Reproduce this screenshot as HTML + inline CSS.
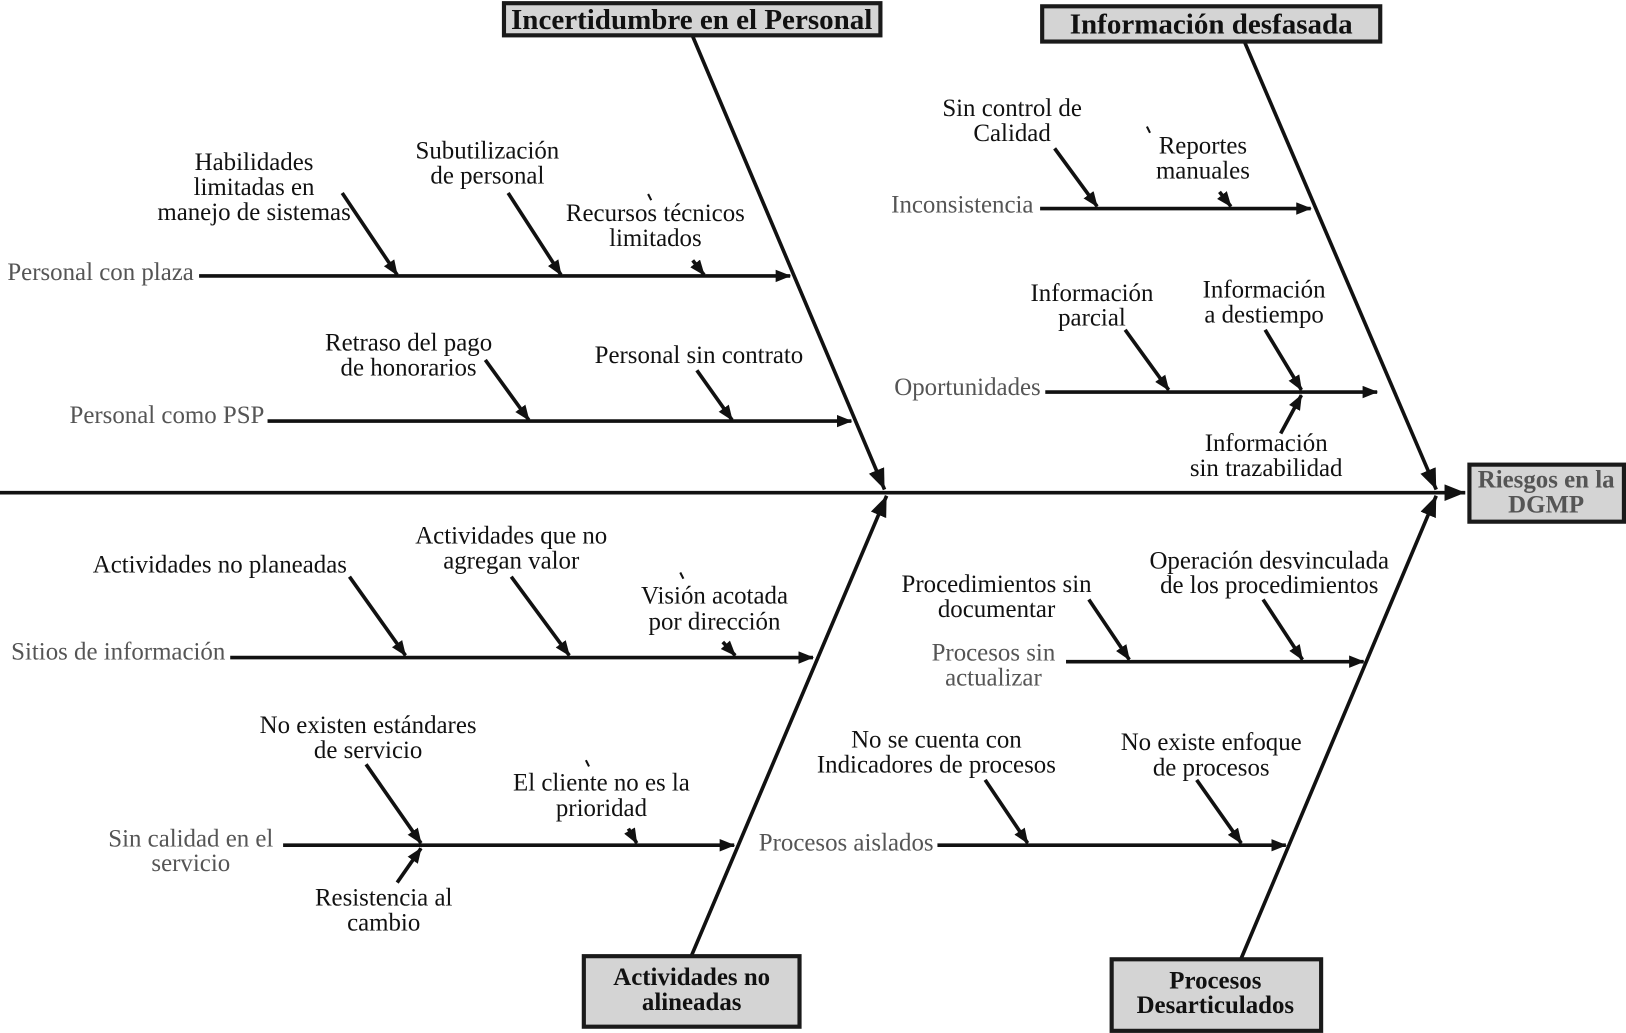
<!DOCTYPE html>
<html><head><meta charset="utf-8"><style>
html,body{margin:0;padding:0;background:#fff;}
svg{display:block;}
text{font-family:"Liberation Serif",serif;font-size:24px;text-anchor:middle;fill:#111;}
.g{fill:#555;}
.b{font-weight:bold;font-size:28px;}
</style></head><body>
<svg width="1626" height="1033" viewBox="0 0 1568 996" xmlns="http://www.w3.org/2000/svg">
<defs>
<marker id="a" markerUnits="userSpaceOnUse" markerWidth="22" markerHeight="18" refX="20" refY="8" orient="auto">
<path d="M0,0 L20,8 L0,16 Z" fill="#111"/>
</marker>
<marker id="s" markerUnits="userSpaceOnUse" markerWidth="16" markerHeight="14" refX="14" refY="6" orient="auto">
<path d="M0,0 L15,6 L0,12 Z" fill="#111"/>
</marker>
</defs>
<g stroke="#111" stroke-width="3.5" fill="none">
<line x1="0" y1="475" x2="1413" y2="475" marker-end="url(#a)"/>
<line x1="668" y1="35" x2="853" y2="472" marker-end="url(#a)"/>
<line x1="1200" y1="40" x2="1385" y2="472" marker-end="url(#a)"/>
<line x1="667" y1="921" x2="855" y2="478" marker-end="url(#a)"/>
<line x1="1197" y1="924" x2="1385" y2="478" marker-end="url(#a)"/>
<line x1="192" y1="266" x2="762" y2="266" marker-end="url(#s)"/>
<line x1="258" y1="406" x2="821" y2="406" marker-end="url(#s)"/>
<line x1="1003" y1="201" x2="1264" y2="201" marker-end="url(#s)"/>
<line x1="1008" y1="378" x2="1328" y2="378" marker-end="url(#s)"/>
<line x1="222" y1="634" x2="784" y2="634" marker-end="url(#s)"/>
<line x1="273" y1="815" x2="708" y2="815" marker-end="url(#s)"/>
<line x1="1028" y1="638" x2="1315" y2="638" marker-end="url(#s)"/>
<line x1="904" y1="815" x2="1240" y2="815" marker-end="url(#s)"/>
<line x1="330" y1="186" x2="383" y2="265" marker-end="url(#s)"/>
<line x1="490" y1="186" x2="541" y2="265" marker-end="url(#s)"/>
<line x1="668" y1="251" x2="679" y2="265" marker-end="url(#s)"/>
<line x1="468" y1="347" x2="510" y2="405" marker-end="url(#s)"/>
<line x1="672" y1="357" x2="706" y2="405" marker-end="url(#s)"/>
<line x1="1017" y1="143" x2="1058" y2="199" marker-end="url(#s)"/>
<line x1="1176" y1="185" x2="1187" y2="199" marker-end="url(#s)"/>
<line x1="1085" y1="318" x2="1127" y2="376" marker-end="url(#s)"/>
<line x1="1220" y1="318" x2="1255" y2="376" marker-end="url(#s)"/>
<line x1="1235" y1="418" x2="1255" y2="381" marker-end="url(#s)"/>
<line x1="337" y1="556" x2="391" y2="632" marker-end="url(#s)"/>
<line x1="493" y1="556" x2="549" y2="632" marker-end="url(#s)"/>
<line x1="697" y1="619" x2="709" y2="632" marker-end="url(#s)"/>
<line x1="353" y1="737" x2="406" y2="813" marker-end="url(#s)"/>
<line x1="383" y1="851" x2="406" y2="818" marker-end="url(#s)"/>
<line x1="606" y1="799" x2="614" y2="813" marker-end="url(#s)"/>
<line x1="1050" y1="578" x2="1089" y2="636" marker-end="url(#s)"/>
<line x1="1218" y1="578" x2="1256" y2="636" marker-end="url(#s)"/>
<line x1="950" y1="752" x2="991" y2="813" marker-end="url(#s)"/>
<line x1="1154" y1="752" x2="1197" y2="813" marker-end="url(#s)"/>
</g>
<g stroke="#111" stroke-width="2">
<line x1="625" y1="187" x2="628" y2="193"/>
<line x1="1106" y1="122" x2="1109" y2="128"/>
<line x1="656" y1="552" x2="659" y2="558"/>
<line x1="565" y1="733" x2="568" y2="739"/>
</g>
<g fill="#d4d4d4" stroke="#1a1a1a" stroke-width="4">
<rect x="486" y="3" width="363" height="31"/>
<rect x="1005" y="6" width="326" height="34"/>
<rect x="1417" y="448" width="149" height="55"/>
<rect x="563" y="922" width="208" height="68"/>
<rect x="1072" y="925" width="202" height="69"/>
</g>
<text class="b" x="667" y="28">Incertidumbre en el Personal</text>
<text class="b" x="1168" y="32">Información desfasada</text>
<text class="b" x="1491" y="470" style="fill:#555;font-size:24px">Riesgos en la</text>
<text class="b" x="1491" y="494" style="fill:#555;font-size:24px">DGMP</text>
<text class="b" x="667" y="950" style="font-size:24px">Actividades no</text>
<text class="b" x="667" y="974" style="font-size:24px">alineadas</text>
<text class="b" x="1172" y="953" style="font-size:24px">Procesos</text>
<text class="b" x="1172" y="977" style="font-size:24px">Desarticulados</text>

<text class="g" x="97" y="270">Personal con plaza</text>
<text class="g" x="161" y="408">Personal como PSP</text>
<text class="g" x="928" y="205">Inconsistencia</text>
<text class="g" x="933" y="381">Oportunidades</text>
<text class="g" x="114" y="636">Sitios de información</text>
<text class="g" x="184" y="816">Sin calidad en el</text>
<text class="g" x="184" y="840">servicio</text>
<text class="g" x="958" y="637">Procesos sin</text>
<text class="g" x="958" y="661">actualizar</text>
<text class="g" x="816" y="820">Procesos aislados</text>

<text x="245" y="164">Habilidades</text>
<text x="245" y="188">limitadas en</text>
<text x="245" y="212">manejo de sistemas</text>
<text x="470" y="153">Subutilización</text>
<text x="470" y="177">de personal</text>
<text x="632" y="213">Recursos técnicos</text>
<text x="632" y="237">limitados</text>
<text x="394" y="338">Retraso del pago</text>
<text x="394" y="362">de honorarios</text>
<text x="674" y="350">Personal sin contrato</text>
<text x="976" y="112">Sin control de</text>
<text x="976" y="136">Calidad</text>
<text x="1160" y="148">Reportes</text>
<text x="1160" y="172">manuales</text>
<text x="1053" y="290">Información</text>
<text x="1053" y="314">parcial</text>
<text x="1219" y="287">Información</text>
<text x="1219" y="311">a destiempo</text>
<text x="1221" y="435">Información</text>
<text x="1221" y="459">sin trazabilidad</text>
<text x="212" y="552">Actividades no planeadas</text>
<text x="493" y="524">Actividades que no</text>
<text x="493" y="548">agregan valor</text>
<text x="689" y="582">Visión acotada</text>
<text x="689" y="607">por dirección</text>
<text x="355" y="707">No existen estándares</text>
<text x="355" y="731">de servicio</text>
<text x="370" y="873">Resistencia al</text>
<text x="370" y="897">cambio</text>
<text x="580" y="762">El cliente no es la</text>
<text x="580" y="787">prioridad</text>
<text x="961" y="571">Procedimientos sin</text>
<text x="961" y="595">documentar</text>
<text x="1224" y="548">Operación desvinculada</text>
<text x="1224" y="572">de los procedimientos</text>
<text x="903" y="721">No se cuenta con</text>
<text x="903" y="745">Indicadores de procesos</text>
<text x="1168" y="723">No existe enfoque</text>
<text x="1168" y="748">de procesos</text>
</svg>
</body></html>
